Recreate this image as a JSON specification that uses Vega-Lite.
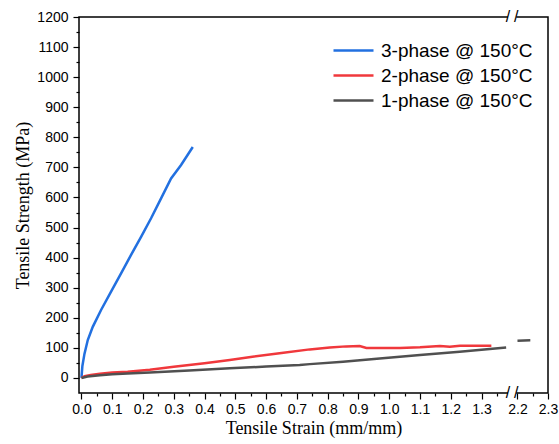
{
  "$schema": "https://vega.github.io/schema/vega-lite/v6.json",
  "width": 469,
  "height": 376,
  "autosize": {"type": "none"},
  "padding": {"left": 79, "top": 17, "right": 11, "bottom": 51},
  "background": "white",
  "config": {
    "view": {"stroke": "black", "strokeWidth": 1.5},
    "font": "Liberation Sans",
    "axis": {"grid": false, "domain": false, "tickColor": "black", "labelColor": "black", "titleColor": "black"}
  },
  "datasets": {
    "curves": [
      {"series": "3-phase @ 150°C", "seg": "a", "strain": 0.0, "stress": 0},
      {"series": "3-phase @ 150°C", "seg": "a", "strain": 0.003, "stress": 40},
      {"series": "3-phase @ 150°C", "seg": "a", "strain": 0.0097, "stress": 80},
      {"series": "3-phase @ 150°C", "seg": "a", "strain": 0.0205, "stress": 126},
      {"series": "3-phase @ 150°C", "seg": "a", "strain": 0.0367, "stress": 170},
      {"series": "3-phase @ 150°C", "seg": "a", "strain": 0.0637, "stress": 226},
      {"series": "3-phase @ 150°C", "seg": "a", "strain": 0.0962, "stress": 287},
      {"series": "3-phase @ 150°C", "seg": "a", "strain": 0.1287, "stress": 348},
      {"series": "3-phase @ 150°C", "seg": "a", "strain": 0.1612, "stress": 409},
      {"series": "3-phase @ 150°C", "seg": "a", "strain": 0.1937, "stress": 469},
      {"series": "3-phase @ 150°C", "seg": "a", "strain": 0.2262, "stress": 531},
      {"series": "3-phase @ 150°C", "seg": "a", "strain": 0.2587, "stress": 597},
      {"series": "3-phase @ 150°C", "seg": "a", "strain": 0.2912, "stress": 663},
      {"series": "3-phase @ 150°C", "seg": "a", "strain": 0.3237, "stress": 708},
      {"series": "3-phase @ 150°C", "seg": "a", "strain": 0.3617, "stress": 768},
      {"series": "2-phase @ 150°C", "seg": "a", "strain": 0.0, "stress": 0},
      {"series": "2-phase @ 150°C", "seg": "a", "strain": 0.01, "stress": 6},
      {"series": "2-phase @ 150°C", "seg": "a", "strain": 0.03, "stress": 10},
      {"series": "2-phase @ 150°C", "seg": "a", "strain": 0.06, "stress": 14},
      {"series": "2-phase @ 150°C", "seg": "a", "strain": 0.1, "stress": 18},
      {"series": "2-phase @ 150°C", "seg": "a", "strain": 0.15, "stress": 21},
      {"series": "2-phase @ 150°C", "seg": "a", "strain": 0.222, "stress": 27},
      {"series": "2-phase @ 150°C", "seg": "a", "strain": 0.3, "stress": 37},
      {"series": "2-phase @ 150°C", "seg": "a", "strain": 0.4, "stress": 49},
      {"series": "2-phase @ 150°C", "seg": "a", "strain": 0.482, "stress": 60},
      {"series": "2-phase @ 150°C", "seg": "a", "strain": 0.55, "stress": 70},
      {"series": "2-phase @ 150°C", "seg": "a", "strain": 0.65, "stress": 83},
      {"series": "2-phase @ 150°C", "seg": "a", "strain": 0.742, "stress": 95},
      {"series": "2-phase @ 150°C", "seg": "a", "strain": 0.807, "stress": 101},
      {"series": "2-phase @ 150°C", "seg": "a", "strain": 0.86, "stress": 105},
      {"series": "2-phase @ 150°C", "seg": "a", "strain": 0.904, "stress": 106},
      {"series": "2-phase @ 150°C", "seg": "a", "strain": 0.926, "stress": 100},
      {"series": "2-phase @ 150°C", "seg": "a", "strain": 1.035, "stress": 100},
      {"series": "2-phase @ 150°C", "seg": "a", "strain": 1.1, "stress": 102},
      {"series": "2-phase @ 150°C", "seg": "a", "strain": 1.165, "stress": 106},
      {"series": "2-phase @ 150°C", "seg": "a", "strain": 1.197, "stress": 104},
      {"series": "2-phase @ 150°C", "seg": "a", "strain": 1.23, "stress": 107},
      {"series": "2-phase @ 150°C", "seg": "a", "strain": 1.332, "stress": 107},
      {"series": "1-phase @ 150°C", "seg": "a", "strain": 0.0, "stress": 0},
      {"series": "1-phase @ 150°C", "seg": "a", "strain": 0.02, "stress": 5},
      {"series": "1-phase @ 150°C", "seg": "a", "strain": 0.06, "stress": 9},
      {"series": "1-phase @ 150°C", "seg": "a", "strain": 0.1, "stress": 12},
      {"series": "1-phase @ 150°C", "seg": "a", "strain": 0.15, "stress": 15},
      {"series": "1-phase @ 150°C", "seg": "a", "strain": 0.222, "stress": 18},
      {"series": "1-phase @ 150°C", "seg": "a", "strain": 0.35, "stress": 25},
      {"series": "1-phase @ 150°C", "seg": "a", "strain": 0.482, "stress": 32},
      {"series": "1-phase @ 150°C", "seg": "a", "strain": 0.6, "stress": 38},
      {"series": "1-phase @ 150°C", "seg": "a", "strain": 0.709, "stress": 43},
      {"series": "1-phase @ 150°C", "seg": "a", "strain": 0.742, "stress": 46},
      {"series": "1-phase @ 150°C", "seg": "a", "strain": 0.85, "stress": 54},
      {"series": "1-phase @ 150°C", "seg": "a", "strain": 0.969, "stress": 65},
      {"series": "1-phase @ 150°C", "seg": "a", "strain": 1.1, "stress": 76},
      {"series": "1-phase @ 150°C", "seg": "a", "strain": 1.229, "stress": 87},
      {"series": "1-phase @ 150°C", "seg": "a", "strain": 1.38, "stress": 101},
      {"series": "1-phase @ 150°C", "seg": "b", "strain": 2.2, "stress": 124},
      {"series": "1-phase @ 150°C", "seg": "b", "strain": 2.242, "stress": 125}
    ],
    "gaps": [
      {"x1": 1.386, "x2": 2.196, "y1": -58, "y2": -42},
      {"x1": 1.386, "x2": 2.196, "y1": 1192, "y2": 1208}
    ],
    "slashes": [
      {"bx": 1.386, "by": -50},
      {"bx": 2.196, "by": -50},
      {"bx": 1.386, "by": 1200},
      {"bx": 2.196, "by": 1200}
    ]
  },
  "resolve": {"axis": {"x": "independent", "y": "independent"}},
  "layer": [
    {
      "data": {"name": "curves"},
      "mark": {"type": "line", "strokeWidth": 2.5, "clip": false},
      "encoding": {
        "x": {
          "field": "strain", "type": "quantitative",
          "scale": {"domain": [-0.008, 1.4, 2.183, 2.3], "range": [0, 433.3, 433.3, 469], "nice": false, "zero": false},
          "axis": {
            "orient": "bottom",
            "values": [0, 0.1, 0.2, 0.3, 0.4, 0.5, 0.6, 0.7, 0.8, 0.9, 1.0, 1.1, 1.2, 1.3, 2.2, 2.3],
            "format": ".1f", "tickSize": 6, "tickWidth": 1.2,
            "labelFontSize": 14, "labelPadding": 3, "labelOverlap": false, "labelFlush": false,
            "title": "Tensile Strain (mm/mm)", "titleFont": "Liberation Serif", "titleFontSize": 18,
            "titleFontWeight": "normal", "titlePadding": 3
          }
        },
        "y": {
          "field": "stress", "type": "quantitative",
          "scale": {"domain": [-50, 1200], "nice": false, "zero": false},
          "axis": {
            "orient": "left",
            "values": [0, 100, 200, 300, 400, 500, 600, 700, 800, 900, 1000, 1100, 1200],
            "format": "d", "tickSize": 6, "tickWidth": 1.2,
            "labelFontSize": 14, "labelPadding": 5, "labelOverlap": false, "labelFlush": false,
            "title": "Tensile Strength (MPa)", "titleFont": "Liberation Serif", "titleFontSize": 18,
            "titleFontWeight": "normal", "titlePadding": 4
          }
        },
        "color": {
          "field": "series", "type": "nominal",
          "scale": {"domain": ["3-phase @ 150°C", "2-phase @ 150°C", "1-phase @ 150°C"], "range": ["#2270e0", "#f0383c", "#505050"]},
          "legend": {
            "title": null, "orient": "none", "legendX": 263, "legendY": 22,
            "symbolType": "M-2,0H2", "symbolSize": 400, "symbolStrokeWidth": 2.5,
            "labelFontSize": 19, "labelFont": "Liberation Sans", "labelColor": "black",
            "rowPadding": 3, "labelOffset": 16, "padding": 0
          }
        },
        "detail": {"field": "seg"}
      }
    },
    {
      "data": {"name": "curves"},
      "mark": {"type": "point", "opacity": 0},
      "encoding": {
        "x": {
          "field": "strain", "type": "quantitative",
          "axis": {
            "orient": "bottom",
            "values": [0.05, 0.15, 0.25, 0.35, 0.45, 0.55, 0.65, 0.75, 0.85, 0.95, 1.05, 1.15, 1.25, 1.35, 2.25],
            "tickSize": 3, "tickWidth": 1.2, "labels": false, "title": null
          }
        },
        "y": {
          "field": "stress", "type": "quantitative",
          "axis": {
            "orient": "left",
            "values": [50, 150, 250, 350, 450, 550, 650, 750, 850, 950, 1050, 1150],
            "tickSize": 3, "tickWidth": 1.2, "labels": false, "title": null
          }
        }
      }
    },
    {
      "data": {"name": "gaps"},
      "mark": {"type": "rect", "fill": "white", "clip": false},
      "encoding": {
        "x": {"field": "x1", "type": "quantitative", "axis": null},
        "x2": {"field": "x2"},
        "y": {"field": "y1", "type": "quantitative", "axis": null},
        "y2": {"field": "y2"}
      }
    },
    {
      "data": {"name": "slashes"},
      "mark": {"type": "text", "text": "/", "fontSize": 16, "font": "Liberation Sans", "color": "black", "clip": false},
      "encoding": {
        "x": {"field": "bx", "type": "quantitative", "axis": null},
        "y": {"field": "by", "type": "quantitative", "axis": null}
      }
    }
  ]
}
